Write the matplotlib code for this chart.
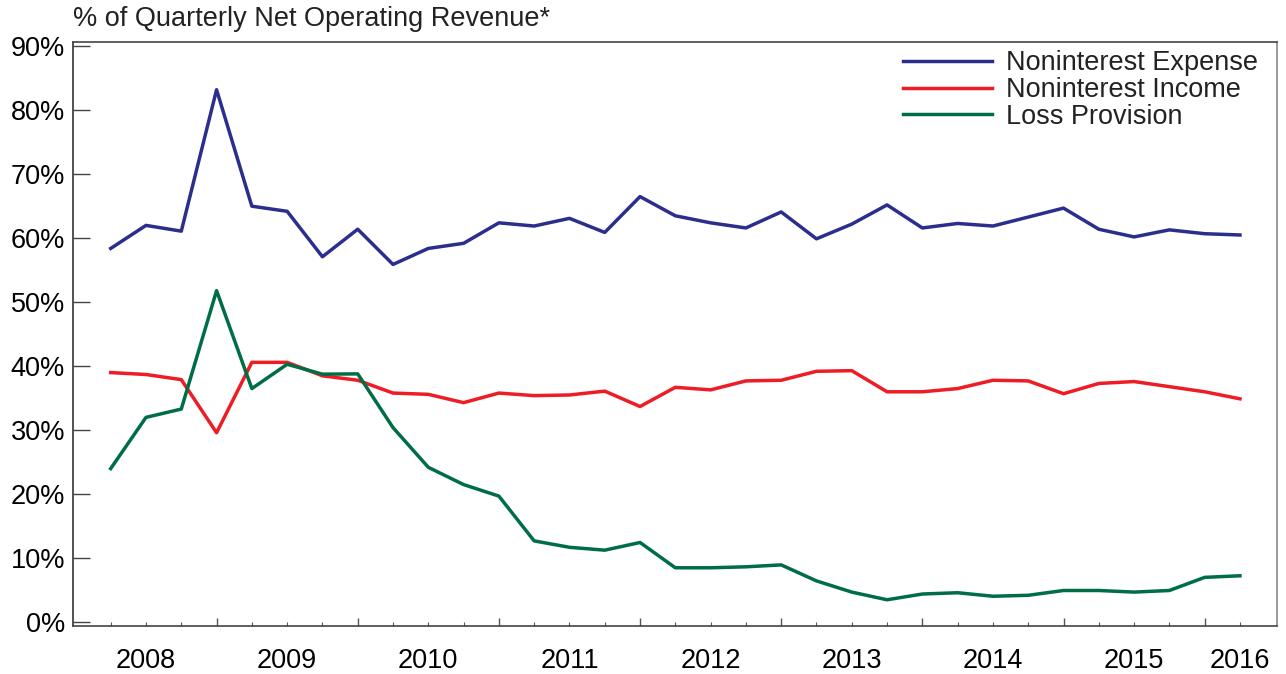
import numpy as np
import matplotlib
matplotlib.use("Agg")
import matplotlib.pyplot as plt

plt.rcParams['font.family'] = ['Liberation Sans', 'DejaVu Sans']

# quarterly points, 2008Q1 .. 2016Q1
quarters = np.arange(33)
expense = [58.4, 62.0, 61.1, 83.2, 65.0, 64.2, 57.1, 61.4, 55.9, 58.4, 59.2,
           62.4, 61.9, 63.1, 60.9, 66.5, 63.5, 62.4, 61.6, 64.1, 59.9, 62.2,
           65.2, 61.6, 62.3, 61.9, 63.3, 64.7, 61.4, 60.2, 61.3, 60.7, 60.5]
income = [39.0, 38.7, 37.9, 29.6, 40.6, 40.6, 38.5, 37.8, 35.8, 35.6, 34.3,
          35.8, 35.4, 35.5, 36.1, 33.7, 36.7, 36.3, 37.7, 37.8, 39.2, 39.3,
          36.0, 36.0, 36.5, 37.8, 37.7, 35.7, 37.3, 37.6, 36.8, 36.0, 34.9]
provision = [24.0, 32.0, 33.3, 51.8, 36.5, 40.3, 38.75, 38.8, 30.4, 24.2, 21.5,
             19.7, 12.7, 11.7, 11.25, 12.45, 8.5, 8.5, 8.65, 8.95, 6.45, 4.7,
             3.5, 4.4, 4.6, 4.05, 4.2, 4.95, 4.95, 4.7, 4.95, 7.0, 7.25]
year_labels = ['2008', '2009', '2010', '2011', '2012', '2013', '2014', '2015', '2016']
label_pos = [1, 5, 9, 13, 17, 21, 25, 29, 32]
year_ticks = [3, 7, 11, 15, 19, 23, 27, 31]

fig = plt.figure(figsize=(12.86, 6.74), dpi=100)
ax = fig.add_axes([0.0570, 0.0712, 0.9360, 0.8669])

ax.plot(quarters, expense, color='#2B2E8C', lw=2.5, label='Noninterest Expense')
ax.plot(quarters, income, color='#EE1C25', lw=2.5, label='Noninterest Income')
ax.plot(quarters, provision, color='#006E45', lw=2.5, label='Loss Provision')

ax.set_xlim(-1.06, 33.05)
ax.set_ylim(-0.6, 90.7)

ax.set_yticks(np.arange(0, 91, 10))
ax.set_yticklabels(['%d%%' % v for v in range(0, 91, 10)])
ax.tick_params(axis='y', direction='in', length=12, width=1.0, color='#444444',
               labelsize=19.5, pad=6)

ax.set_xticks(year_ticks)
ax.set_xticks(quarters, minor=True)
ax.tick_params(axis='x', which='major', direction='in', length=5.5, width=1.0,
               color='#555555', labelbottom=False)
ax.tick_params(axis='x', which='minor', direction='in', length=2.8, width=0.8,
               color='#555555')

sec = ax.secondary_xaxis('bottom')
sec.set_xticks(label_pos)
sec.set_xticklabels(year_labels)
sec.tick_params(length=0, labelsize=19.5, pad=16)
sec.spines['bottom'].set_visible(False)

for side, col in [('left', '#333333'), ('bottom', '#444444'),
                  ('top', '#444444'), ('right', '#888888')]:
    ax.spines[side].set_color(col)
    ax.spines[side].set_linewidth(1.2)

fig.text(73 / 1286, 1 - 19 / 674, '% of Quarterly Net Operating Revenue*',
         fontsize=19.5, ha='left', va='center', color='#222222')

ax.legend(loc='upper left', bbox_to_anchor=(0.689, 0.985), frameon=False,
          fontsize=19.5, handlelength=3.3, handletextpad=0.52, labelspacing=0.02,
          borderaxespad=0, borderpad=0, labelcolor='#222222')

fig.savefig('out.png', dpi=100)
